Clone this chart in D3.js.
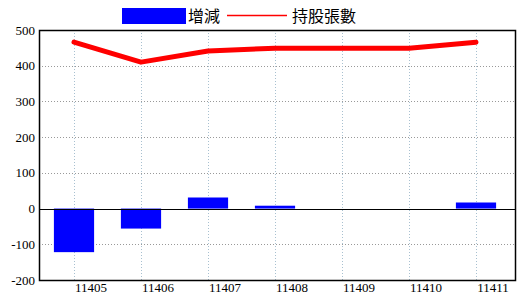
<!DOCTYPE html>
<html><head><meta charset="utf-8">
<script src="https://cdn.jsdelivr.net/npm/d3@7"></script>
<style>body{margin:0;background:#fff} .num{font-family:'Liberation Serif','DejaVu Serif',serif;font-size:13px}</style>
</head><body>
<svg id="c" width="520" height="300"></svg>
<script>
const categories = ["11405","11406","11407","11408","11409","11410","11411"];
const changeValues = [-122, -56, 31, 8, 0, 0, 17];
const holdingValues = [466, 410, 441, 449, 449, 449, 466];
const yTicks = [-200, -100, 0, 100, 200, 300, 400, 500];
const legendLabels = ["增減", "持股張數"];

const svg = d3.select("#c");
const L = 39, R = 516, T = 30, B = 280;
const x = d3.scaleBand().domain(categories).range([40.5, 509.5]).paddingInner(0.4).paddingOuter(0.2);
const y = d3.scaleLinear().domain([-200, 500]).range([B, T]);
const cx = d => x(d) + x.bandwidth() / 2;

// grid horizontal
svg.append("g").selectAll("line").data(yTicks.filter(t => t !== 0 && t !== 500 && t !== -200)).join("line")
  .attr("x1", L).attr("x2", R).attr("y1", d => Math.round(y(d)) + 0.5).attr("y2", d => Math.round(y(d)) + 0.5)
  .attr("stroke", "#999").attr("stroke-dasharray", "1,2");
// grid vertical
svg.append("g").selectAll("line").data(categories).join("line")
  .attr("x1", d => Math.round(cx(d)) + 0.5).attr("x2", d => Math.round(cx(d)) + 0.5)
  .attr("y1", T).attr("y2", B)
  .attr("stroke", "#a8c0d0").attr("stroke-dasharray", "1,2");

// bars
svg.append("g").selectAll("rect").data(categories).join("rect")
  .attr("x", d => x(d))
  .attr("width", x.bandwidth())
  .attr("y", (d, i) => y(Math.max(0, changeValues[i])))
  .attr("height", (d, i) => Math.abs(y(changeValues[i]) - y(0)))
  .attr("fill", "#0000ff");

// zero line
svg.append("line").attr("x1", L).attr("x2", R).attr("y1", Math.round(y(0)) + 0.5).attr("y2", Math.round(y(0)) + 0.5)
  .attr("stroke", "#000").attr("stroke-width", 1.2);

// frame
svg.append("rect").attr("x", L + 0.5).attr("y", T + 0.5).attr("width", R - L - 1).attr("height", B - T)
  .attr("fill", "none").attr("stroke", "#000").attr("stroke-width", 1.5);

// line
const line = d3.line().x((d, i) => cx(categories[i])).y(d => y(d));
svg.append("path").datum(holdingValues).attr("d", line)
  .attr("fill", "none").attr("stroke", "#ff0000").attr("stroke-width", 5)
  .attr("stroke-linecap", "round").attr("stroke-linejoin", "round");

// y labels
svg.append("g").selectAll("text").data(yTicks).join("text")
  .attr("class", "num")
  .attr("x", 35).attr("y", d => y(d)).attr("dy", "0.35em")
  .attr("text-anchor", "end")
  .text(d => d);
// x labels
svg.append("g").selectAll("text").data(categories).join("text")
  .attr("class", "num")
  .attr("x", d => cx(d) + 17).attr("y", 292)
  .attr("text-anchor", "middle")
  .text(d => d);

// legend
svg.append("rect").attr("x", 122).attr("y", 8).attr("width", 64).attr("height", 16).attr("fill", "#0000ff");
svg.append("text").attr("x", 188).attr("y", 22).attr("font-family", "'Noto Sans CJK TC'").attr("font-size", 16).text(legendLabels[0]);
svg.append("line").attr("x1", 227).attr("x2", 287).attr("y1", 15.5).attr("y2", 15.5).attr("stroke", "#ff0000").attr("stroke-width", 1.5);
svg.append("text").attr("x", 292).attr("y", 22).attr("font-family", "'Noto Sans CJK TC'").attr("font-size", 16).text(legendLabels[1]);
</script>
</body></html>
